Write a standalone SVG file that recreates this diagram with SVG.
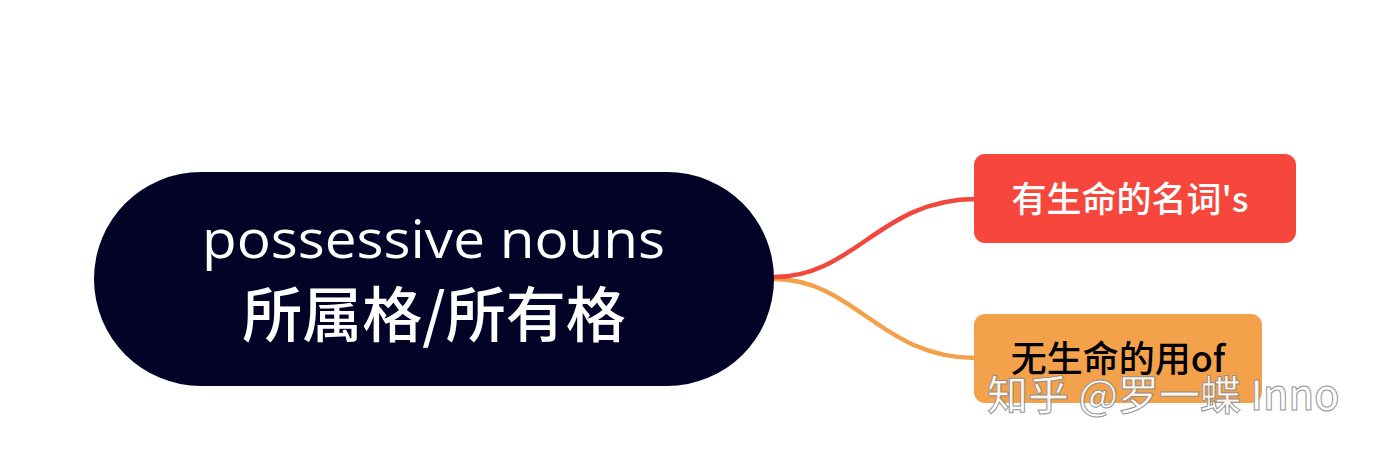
<svg xmlns="http://www.w3.org/2000/svg" width="1374" height="454" viewBox="0 0 1374 454">
<style>
.lat{font-family:"Open Sans","Noto Sans","Noto Sans CJK SC",sans-serif}
.cjk{font-family:"Noto Sans CJK SC","Noto Sans",sans-serif;font-weight:500}
.conn{fill:none;stroke-width:4.5;stroke-linecap:round}
</style>
<rect width="1374" height="454" fill="#ffffff"/>
<g id="connectors">
<path class="conn" d="M774,279 C855,279 880,358 976,358" stroke="#F3A04A"/>
<path class="conn" d="M774,277 C855,277 880,199 976,199" stroke="#F2473D"/>
</g>
<g id="root">
<rect x="94" y="172" width="680" height="214" rx="107" fill="#020327"/>
<text x="202" y="258" fill="#ffffff" font-size="53" textLength="463" lengthAdjust="spacingAndGlyphs" class="lat">possessive nouns</text>
<text x="434" y="337" text-anchor="middle" fill="#ffffff" font-size="60" class="cjk">所属格/所有格</text>
</g>
<g id="node-animate">
<rect x="974" y="154" width="322" height="89" rx="11" fill="#F7473D"/>
<text x="1130" y="212" text-anchor="middle" fill="#ffffff" font-size="35" class="cjk">有生命的名词's</text>
</g>
<g id="node-inanimate">
<rect x="974" y="314" width="288" height="89" rx="11" fill="#F4A14C"/>
<text x="1118" y="372" text-anchor="middle" fill="#000000" font-size="36" class="cjk">无生命的用of</text>
</g>
<text x="987" y="410" fill="#ffffff" stroke="#8a8a8a" stroke-width="1" font-size="41" class="cjk" font-weight="400" opacity="0.9">知乎 @罗一蝶 Inno</text>
</svg>
